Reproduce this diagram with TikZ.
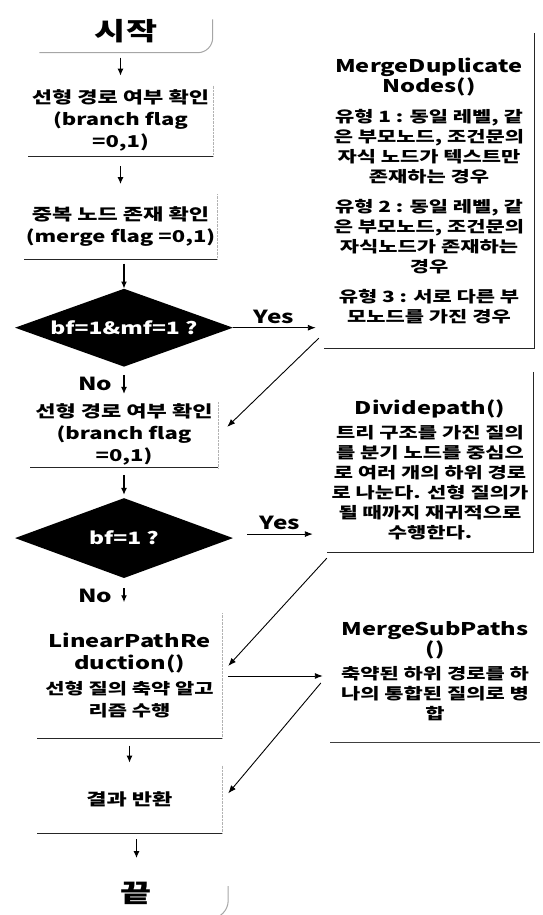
\documentclass[tikz,border=0pt]{standalone}
\usepackage{fontspec}
\setmainfont{Noto Sans CJK KR}[FakeStretch=1.35]
\usetikzlibrary{arrows.meta, shapes.geometric, positioning}

\newcommand{\fnhead}{\fontsize{17.5}{25}\selectfont}
\newcommand{\fnbody}{\fontsize{15.5}{20}\selectfont}

\begin{document}
\begin{tikzpicture}[
  x=1pt, y=-1pt,
  node distance=30pt,
  >=Latex,
  font=\bfseries,
  box/.style={
    rectangle, fill=white,
    inner sep=2pt,
    minimum width=185pt,
    align=center,
    font=\bfseries\fontsize{16.3}{22}\selectfont
  },
  term/.style={
    rectangle,
    minimum width=173pt, minimum height=43pt,
    font=\bfseries\fontsize{25}{30}\selectfont
  },
  decision/.style={
    diamond, aspect=2.8,
    fill=black, text=white,
    minimum width=218pt, minimum height=78pt,
    inner sep=0pt,
    font=\bfseries\fontsize{17}{20}\selectfont
  },
  func/.style={
    rectangle, inner sep=2pt,
    align=center,
    font=\bfseries\fnbody
  },
  flag/.style={font=\bfseries\fontsize{18}{20}\selectfont, inner sep=1pt},
  arrow/.style={->, line width=1.2pt, >={Latex[length=7pt,width=6pt]}},
  link/.style={->, line width=0.9pt, >={Latex[length=8pt,width=6pt]}}
]
\useasboundingbox (0,0) rectangle (542,915);

% main column
\node[term] (start) at (126,31) {시작};

\node[box, minimum height=70pt, below=33pt of start, xshift=-5.5pt] (chk1) {%
선형 경로 여부 확인\\(branch flag\\=0,1)};

\node[box, minimum height=65pt, below=38pt of chk1] (dup) {%
중복 노드 존재 확인\\(merge flag =0,1)};

\node[decision, below=29pt of dup, xshift=3.5pt] (dec1) {bf=1\&mf=1 ?};

\node[box, minimum height=63pt, minimum width=188pt, below=35pt of dec1] (chk2) {%
선형 경로 여부 확인\\(branch flag\\=0,1)};

\node[decision, minimum height=80pt, below=30pt of chk2] (dec2) {bf=1 ?};

\node[box, minimum height=125pt, below=35pt of dec2, xshift=5.5pt] (lpr) {%
\fnhead LinearPathRe\\\fnhead duction()\\[3pt]
\fnbody 선형 질의 축약 알고\\\fnbody 리즘 수행};

\node[box, minimum height=67pt, below=27pt of lpr] (res) {결과 반환};

\node[term, minimum width=183pt, minimum height=50pt, below=35pt of res, xshift=7pt] (stop) {끝};

% right column
\node[func, minimum width=210pt, minimum height=315pt] (mdn) at (429,190.5) {%
\fnhead MergeDuplicate\\\fnhead Nodes()\\[10pt]
\fnbody 유형 1 : 동일 레벨, 같\\은 부모노드, 조건문의\\자식 노드가 텍스트만\\존재하는 경우\\[10pt]
유형 2 : 동일 레벨, 같\\은 부모노드, 조건문의\\자식노드가 존재하는\\경우\\[10pt]
유형 3 : 서로 다른 부\\모노드를 가진 경우};

\node[func, minimum width=206pt, minimum height=180pt] (dvp) at (430,462) {%
\rule{0pt}{30pt}\fnhead Dividepath()\\[4pt]
\fnbody 트리 구조를 가진 질의\\를 분기 노드를 중심으\\로 여러 개의 하위 경로\\로 나눈다. 선형 질의가\\될 때까지 재귀적으로\\수행한다.};

\node[func, minimum width=210pt, minimum height=142pt] (msp) at (435,671) {%
\fnhead MergeSubPaths\\\fnhead ()\\[4pt]
\fnbody 축약된 하위 경로를 하\\나의 통합된 질의로 병\\합};

% box edges
\foreach \n in {chk1,dup,chk2,lpr,res} {
  \draw[gray!60, densely dotted] (\n.north east) -- (\n.south east);
  \draw[black!85, line width=1pt] (\n.south east) -- (\n.south west);
}
\foreach \n in {mdn,dvp} {
  \draw[black!85, line width=1pt] (\n.north east) -- (\n.south east) -- (\n.south west);
}
\draw[black!75, line width=1pt] (msp.south east) -- (msp.south west);
\draw[gray!70, line width=1pt, rounded corners=15pt]
  ([yshift=-10pt]start.north east) -- (start.south east) -- (start.south west);
\draw[gray!70, line width=1pt, rounded corners=18pt]
  ([yshift=-18pt]stop.north east) -- (stop.south east) -- ([xshift=-60pt]stop.south east);

% arrows
\draw[arrow, shorten <=5pt, shorten >=10pt] (chk1.north |- start.south) -- (chk1.north);
\draw[arrow, shorten <=10pt, shorten >=10pt] (chk1) -- (dup);
\draw[arrow, shorten <=4pt] (dec1.north |- dup.south) -- (dec1.north);
\draw[arrow, shorten <=8pt, shorten >=8pt] (dec1) -- node[flag, left=10pt] {No} (chk2);
\draw[arrow, shorten <=7pt, shorten >=3pt] (chk2) -- (dec2);
\draw[arrow, shorten <=10pt, shorten >=11pt] (dec2.south) -- node[flag, left=10pt] {No} (dec2.south |- lpr.north);
\draw[arrow, shorten <=7pt, shorten >=3pt] (lpr) -- (res);
\draw[arrow, shorten <=6pt, shorten >=10pt] (stop.north |- res.south) -- (stop.north);

\draw[link, shorten >=8pt] (dec1.east) -- node[flag, above=3pt, pos=0.45] {Yes} (dec1.east -| mdn.west);
\draw[link, shorten <=14pt, shorten >=14pt] ([yshift=4pt]dec2.east) -- node[flag, above=3pt] {Yes} ([yshift=4pt]dec2.east -| dvp.west);
\draw[link, shorten <=6pt, shorten >=7pt] (lpr.east) -- (lpr.east -| msp.west);

\draw[link] ([shift={(-5pt,10pt)}]mdn.south west) -- ([shift={(9pt,8pt)}]chk2.east);
\draw[link] ([shift={(0pt,-6pt)}]dvp.south west) -- ([shift={(6pt,10pt)}]lpr.east);
\draw[link] ([shift={(-9pt,-12pt)}]msp.west) -- ([shift={(6pt,6pt)}]res.east);

\end{tikzpicture}
\end{document}
